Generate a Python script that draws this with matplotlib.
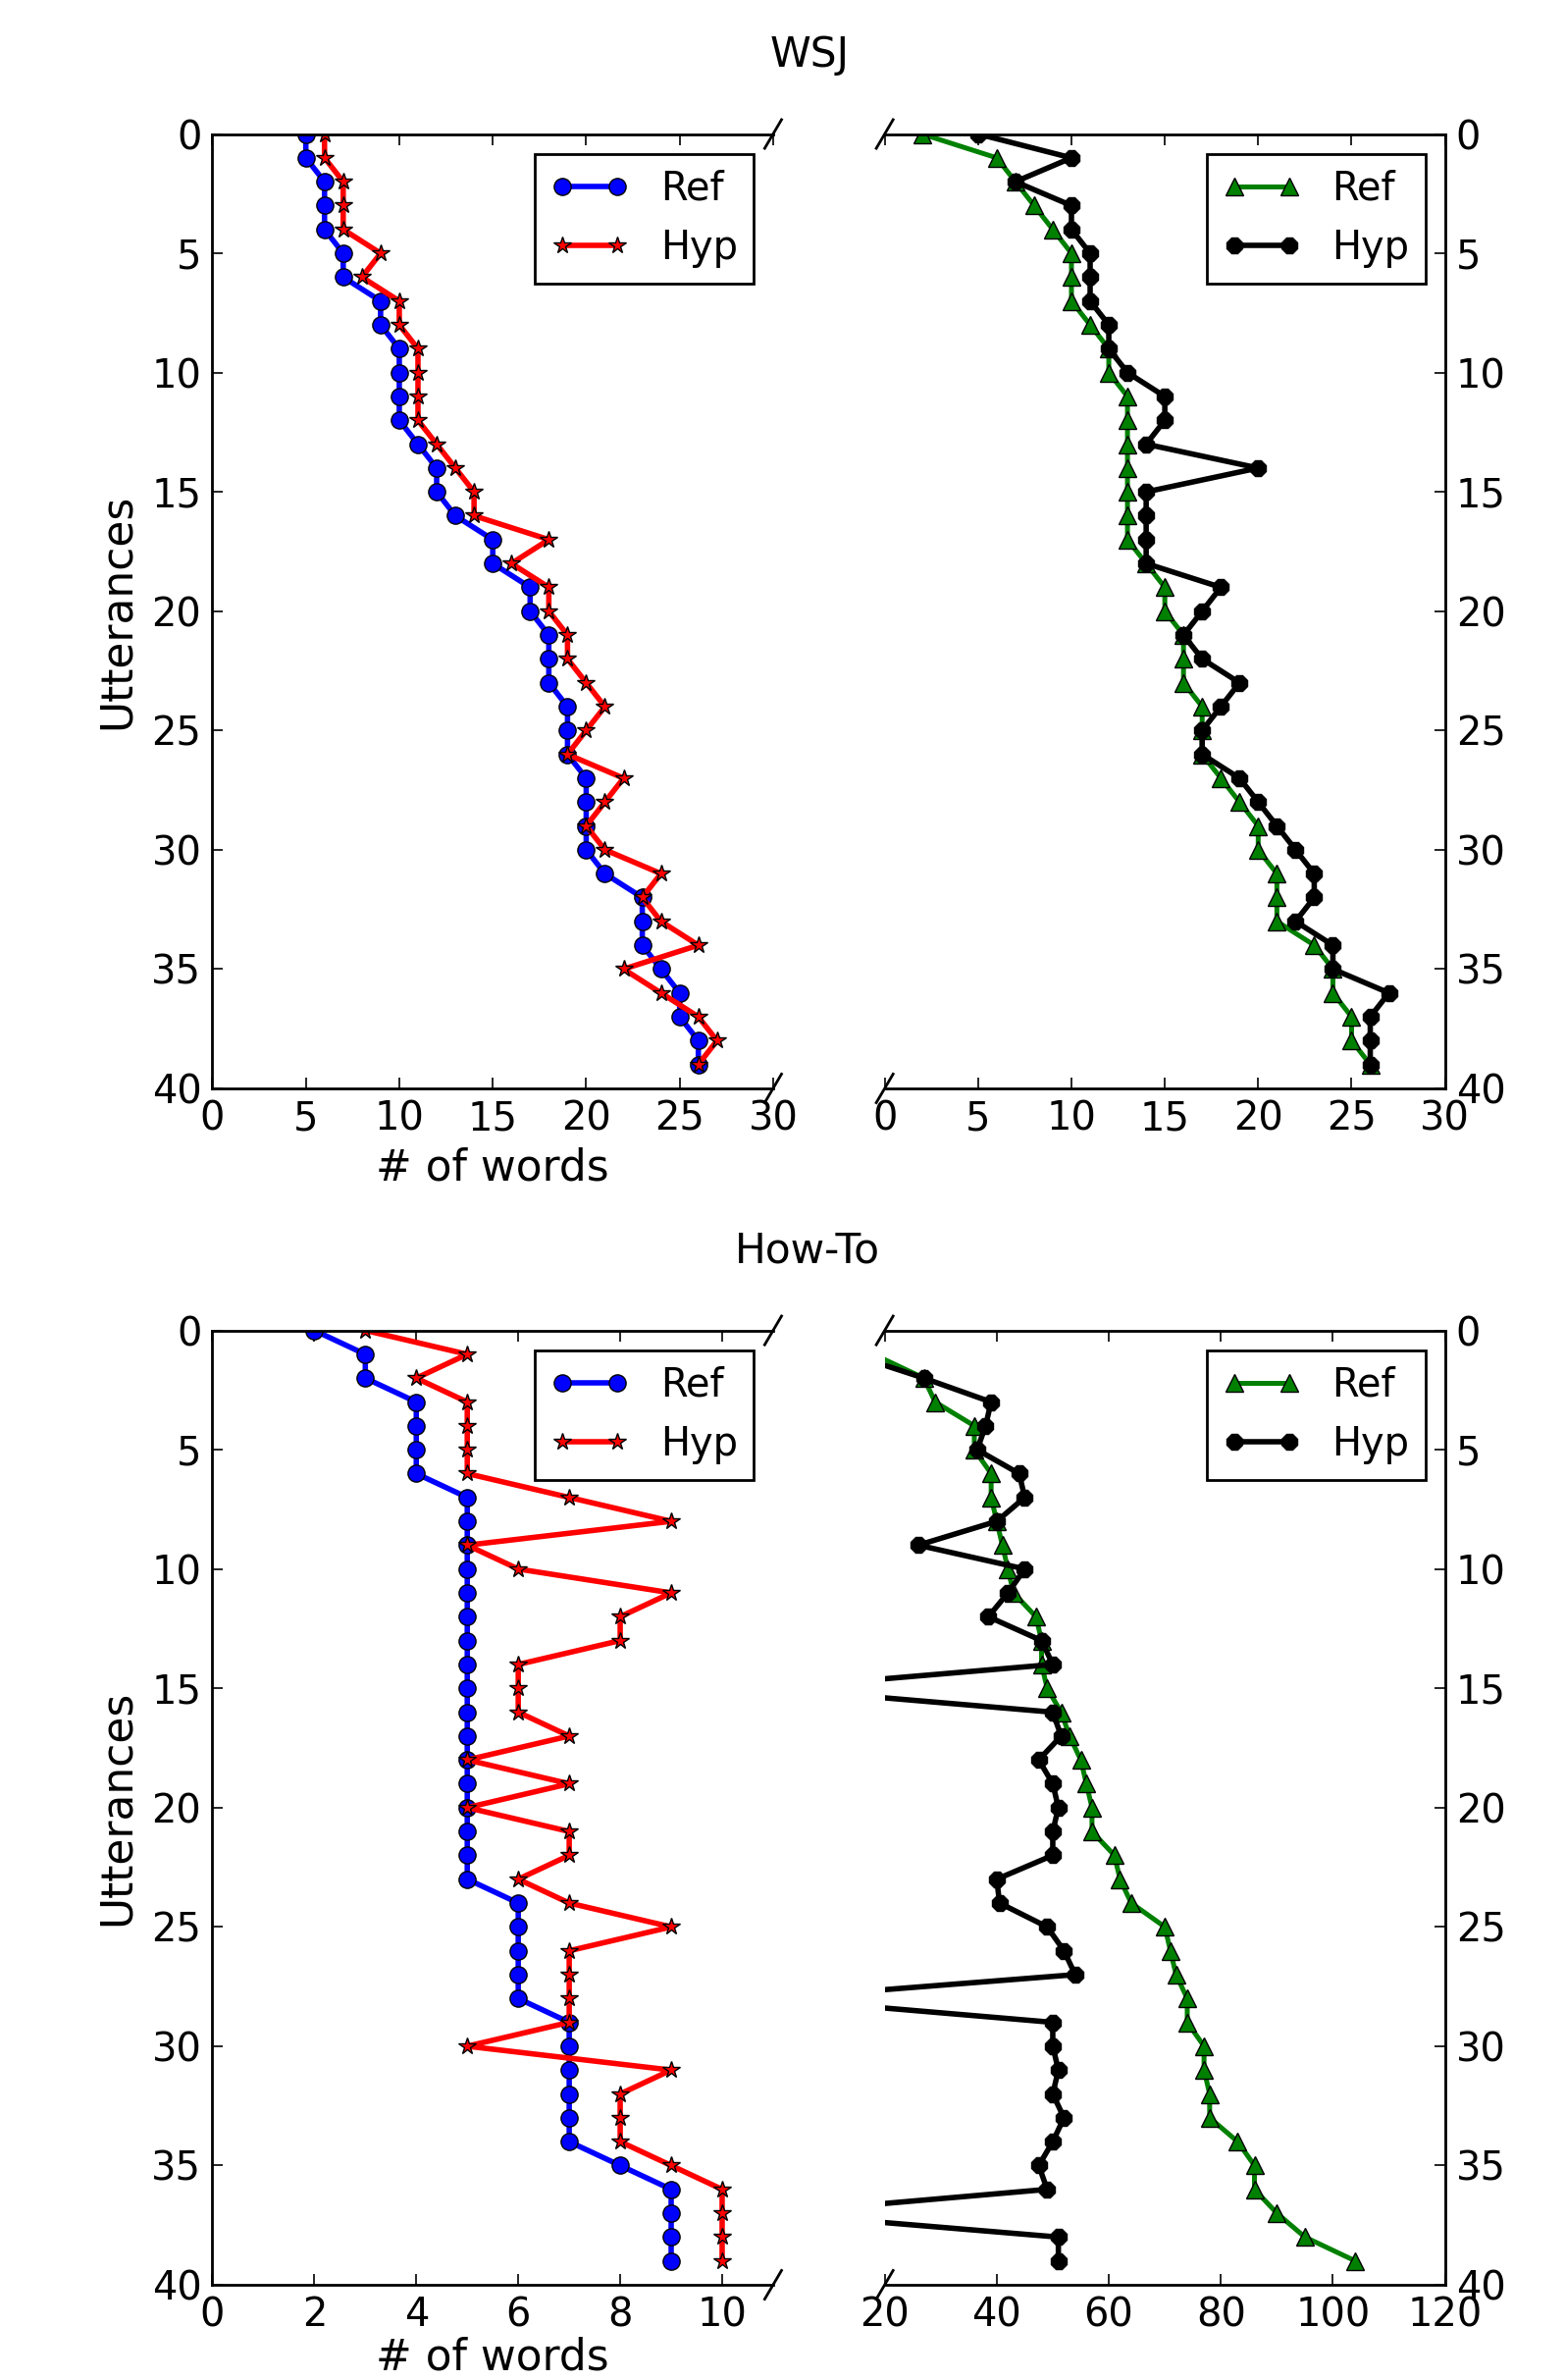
import numpy as np
import matplotlib
matplotlib.use("Agg")
import matplotlib.pyplot as plt
from matplotlib.ticker import MultipleLocator

# utterance index (y axis, inverted)
utterances = np.arange(40)

# WSJ, # of words (left panel)
wsj_ref_words = [5, 5, 6, 6, 6, 7, 7, 9, 9, 10, 10, 10, 10, 11, 12, 12, 13, 15, 15, 17,
                 17, 18, 18, 18, 19, 19, 19, 20, 20, 20, 20, 21, 23, 23, 23, 24, 25, 25, 26, 26]
wsj_hyp_words = [6, 6, 7, 7, 7, 9, 8, 10, 10, 11, 11, 11, 11, 12, 13, 14, 14, 18, 16, 18,
                 18, 19, 19, 20, 21, 20, 19, 22, 21, 20, 21, 24, 23, 24, 26, 22, 24, 26, 27, 26]

# WSJ, right panel
wsj_ref_right = [2, 6, 7, 8, 9, 10, 10, 10, 11, 12, 12, 13, 13, 13, 13, 13, 13, 13, 14, 15,
                 15, 16, 16, 16, 17, 17, 17, 18, 19, 20, 20, 21, 21, 21, 23, 24, 24, 25, 25, 26]
wsj_hyp_right = [5, 10, 7, 10, 10, 11, 11, 11, 12, 12, 13, 15, 15, 14, 20, 14, 14, 14, 14, 18,
                 17, 16, 17, 19, 18, 17, 17, 19, 20, 21, 22, 23, 23, 22, 24, 24, 27, 26, 26, 26]

# How-To, # of words (left panel)
howto_ref_words = [2, 3, 3, 4, 4, 4, 4, 5, 5, 5, 5, 5, 5, 5, 5, 5, 5, 5, 5, 5,
                   5, 5, 5, 5, 6, 6, 6, 6, 6, 7, 7, 7, 7, 7, 7, 8, 9, 9, 9, 9]
howto_hyp_words = [3, 5, 4, 5, 5, 5, 5, 7, 9, 5, 6, 9, 8, 8, 6, 6, 6, 7, 5, 7,
                   5, 7, 7, 6, 7, 9, 7, 7, 7, 7, 5, 9, 8, 8, 8, 9, 10, 10, 10, 10]

# How-To, right panel
howto_ref_right = [14, 18, 27, 29, 36, 36, 39, 39, 40, 41, 42, 43, 47, 48, 48, 49, 51.5, 53, 55, 56,
                   57, 57, 61, 62, 64, 70, 71, 72, 74, 74, 77, 77, 78, 78, 83, 86, 86, 90, 95, 104]
howto_hyp_right = [12, 14, 27, 39, 38, 36.5, 44, 45, 40, 26, 45, 42, 38.5, 48, 50, 0, 50, 51.5, 47.5, 50,
                   51, 50, 50, 40, 40.5, 49, 52, 54, 0, 50, 50, 51, 50, 52, 50, 47.5, 49, 0, 51, 51]

TICK_FS = 14.4
LABEL_FS = 15.8
TITLE_FS = 15.2
LEG_FS = 14.4


def style_axis(ax):
    ax.set_ylim(40, 0)
    ax.yaxis.set_major_locator(MultipleLocator(5))
    ax.tick_params(which='both', direction='in', length=4, width=0.6,
                   labelsize=TICK_FS, pad=4)
    ax.xaxis.set_ticks_position('both')
    for s in ax.spines.values():
        s.set_linewidth(1.0)


def add_legend(ax):
    leg = ax.legend(loc='upper right', numpoints=2, fontsize=LEG_FS, fancybox=False,
                    framealpha=1, edgecolor='k', borderpad=0.4, labelspacing=0.5,
                    handlelength=2.0, handletextpad=0.8, borderaxespad=0.5)
    leg.get_frame().set_linewidth(1.0)


def draw_row(bottom, left_ref, left_hyp, right_ref, right_hyp,
             left_xlim, left_step, right_xlim, right_step, xlabel_pad):
    ax1 = fig.add_axes([0.1357, bottom, 0.3583, 0.401])
    ax2 = fig.add_axes([0.5653, bottom, 0.358, 0.401])

    ax1.plot(left_ref, utterances, 'o-', color='b', lw=2, ms=6.2, mec='k', mew=0.5, label='Ref')
    ax1.plot(left_hyp, utterances, '*-', color='r', lw=2, ms=6.5, mec='k', mew=0.5, label='Hyp')
    ax2.plot(right_ref, utterances, '^-', color='g', lw=1.8, ms=6.8, mec='k', mew=0.5, label='Ref')
    ax2.plot(right_hyp, utterances, '8-', color='k', lw=2, ms=6, mec='k', mew=0.5, label='Hyp')

    for ax in (ax1, ax2):
        style_axis(ax)
    ax1.set_xlim(*left_xlim)
    ax2.set_xlim(*right_xlim)
    ax1.xaxis.set_major_locator(MultipleLocator(left_step))
    ax2.xaxis.set_major_locator(MultipleLocator(right_step))

    ax1.spines['right'].set_visible(False)
    ax2.spines['left'].set_visible(False)
    ax1.yaxis.tick_left()
    ax2.yaxis.tick_right()

    ax1.set_ylabel('Utterances', fontsize=LABEL_FS, labelpad=5)
    ax1.set_xlabel('# of words', fontsize=LABEL_FS, labelpad=xlabel_pad)

    add_legend(ax1)
    add_legend(ax2)

    # diagonal break marks
    d = .015
    kw = dict(transform=ax1.transAxes, color='k', clip_on=False, lw=1)
    ax1.plot((1 - d, 1 + d), (-d, +d), **kw)
    ax1.plot((1 - d, 1 + d), (1 - d, 1 + d), **kw)
    kw.update(transform=ax2.transAxes)
    ax2.plot((-d, +d), (1 - d, 1 + d), **kw)
    ax2.plot((-d, +d), (-d, +d), **kw)
    return ax1, ax2


fig = plt.figure(figsize=(7.975, 12.125), dpi=200, facecolor='white')

draw_row(0.5427, wsj_ref_words, wsj_hyp_words, wsj_ref_right, wsj_hyp_right,
         (0, 30), 5, (0, 30), 5, 3)
draw_row(0.0400, howto_ref_words, howto_hyp_words, howto_ref_right, howto_hyp_right,
         (0, 11), 2, (20, 120), 20, 0.5)

fig.text(0.517, 0.977, 'WSJ', ha='center', va='center', fontsize=TITLE_FS)
fig.text(0.516, 0.4743, 'How-To', ha='center', va='center', fontsize=TITLE_FS)

fig.savefig('out.png', dpi=200, facecolor='white')
